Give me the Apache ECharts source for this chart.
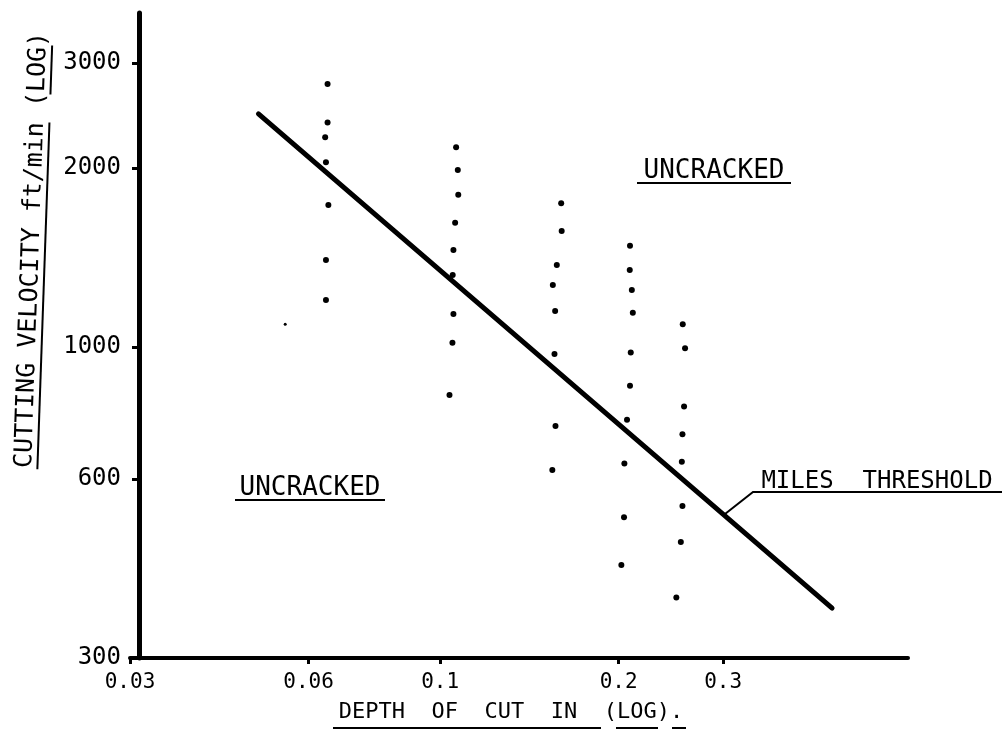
<!DOCTYPE html>
<html>
<head>
<meta charset="utf-8">
<style>
  html, body { margin: 0; padding: 0; background: #fff; }
  #chart { width: 1008px; height: 738px; }
</style>
</head>
<body>
<div id="chart"></div>
<script src="https://cdnjs.cloudflare.com/ajax/libs/echarts/6.0.0/echarts.min.js"></script>
<script>
// depth of cut (in) vs cutting velocity (ft/min), both log scales
const xTicks = [0.03, 0.06, 0.1, 0.2, 0.3];
const yTicks = [300, 600, 1000, 2000, 3000];

// test points, one column per depth of cut
const runA = [[0.0646, 2766], [0.0646, 2382], [0.0640, 2251], [0.0642, 2043], [0.0648, 1732], [0.0642, 1400], [0.0642, 1199]];
const runB = [[0.1064, 2165], [0.1071, 1983], [0.1073, 1802], [0.1060, 1617], [0.1053, 1455], [0.1050, 1321], [0.1053, 1136], [0.1049, 1016], [0.1037, 830]];
const runC = [[0.1600, 1743], [0.1603, 1566], [0.1573, 1373], [0.1549, 1271], [0.1563, 1149], [0.1559, 973], [0.1565, 736], [0.1546, 621]];
const runD = [[0.2090, 1479], [0.2088, 1346], [0.2105, 1246], [0.2113, 1141], [0.2096, 978], [0.2090, 860], [0.2066, 754], [0.2045, 637], [0.2042, 517], [0.2021, 430]];
const runE = [[0.2565, 1091], [0.2588, 995], [0.2578, 794], [0.2562, 713], [0.2556, 641], [0.2562, 540], [0.2546, 470], [0.2502, 379]];
const stray = [[0.0548, 1091]];

// Miles threshold line
const threshold = [[0.0494, 2463], [0.458, 364]];

const FONT = '"DejaVu Sans Mono", monospace';

function nearest(ticks) {
    return v => String(ticks.reduce((a, b) => Math.abs(b - v) < Math.abs(a - v) ? b : a));
}

function underlined(text, x, y, size, rot, under) {
    // text with hand-drawn style underline segments, in the text's own frame
    const kids = [{
        type: 'text', x: 0, y: 0,
        style: { text: text, font: size + 'px ' + FONT, fill: '#000', align: 'center', verticalAlign: 'middle' }
    }];
    under.forEach(u => kids.push({
        type: 'line', shape: { x1: u[0], y1: u[2], x2: u[1], y2: u[2] },
        style: { stroke: '#000', lineWidth: 2 }
    }));
    return { type: 'group', x: x, y: y, rotation: rot, children: kids };
}

const chart = echarts.init(document.getElementById('chart'));

chart.setOption({
    backgroundColor: '#fff',
    animation: false,
    grid: { left: 130, right: 100, top: 13, bottom: 80, outerBoundsMode: 'none' },
    xAxis: {
        type: 'log', logBase: 10, min: 0.03, max: 0.615,
        name: 'DEPTH  OF  CUT  IN  (LOG).', nameLocation: 'middle', nameGap: 43,
        nameTextStyle: { fontFamily: FONT, fontSize: 22, color: '#000', padding: [0, 16, 0, 0] },
        axisLine: { show: true, onZero: false, lineStyle: { color: '#000', width: 4 } },
        axisTick: { show: true, customValues: xTicks, length: 6, lineStyle: { color: '#000', width: 3 } },
        axisLabel: { customValues: xTicks, margin: 14, fontFamily: FONT, fontSize: 21, color: '#000', formatter: nearest(xTicks) },
        splitLine: { show: false }, minorTick: { show: false }
    },
    yAxis: {
        type: 'log', logBase: 10, min: 300, max: 3640, offset: -9,
        axisLine: { show: true, lineStyle: { color: '#000', width: 5 } },
        axisTick: { show: true, customValues: yTicks, length: 7, lineStyle: { color: '#000', width: 3 } },
        axisLabel: { customValues: yTicks, margin: 18, fontFamily: FONT, fontSize: 24, color: '#000', formatter: nearest(yTicks) },
        splitLine: { show: false }, minorTick: { show: false }
    },
    series: [
        {
            type: 'line', data: threshold, symbol: 'none', silent: true,
            lineStyle: { color: '#000', width: 5, cap: 'round' }
        },
        {
            type: 'scatter', data: runA.concat(runB, runC, runD, runE),
            symbolSize: 6, itemStyle: { color: '#000', opacity: 1 }
        },
        {
            type: 'scatter', data: stray, symbolSize: 3, itemStyle: { color: '#000', opacity: 1 }
        }
    ],
    graphic: [
        underlined('UNCRACKED', 714, 171, 26, 0, [[-77, 77, 12]]),
        underlined('UNCRACKED', 310, 488, 26, 0, [[-75, 75, 12]]),
        underlined('MILES  THRESHOLD', 877, 482, 24, 0, []),
        {
            type: 'polyline', shape: { points: [[725, 514], [753, 492], [1002, 492]] },
            style: { stroke: '#000', lineWidth: 2, fill: null }
        },
        underlined('CUTTING VELOCITY ft/min (LOG)', 32, 250, 25, Math.PI * 88 / 180,
            [[-219, 128, 13], [156, 205, 13]]),
        { type: 'line', shape: { x1: 333, y1: 728, x2: 601, y2: 728 }, style: { stroke: '#000', lineWidth: 2 } },
        { type: 'line', shape: { x1: 616, y1: 728, x2: 658, y2: 728 }, style: { stroke: '#000', lineWidth: 2 } },
        { type: 'line', shape: { x1: 672, y1: 728, x2: 686, y2: 728 }, style: { stroke: '#000', lineWidth: 2 } }
    ]
});
</script>
</body>
</html>
